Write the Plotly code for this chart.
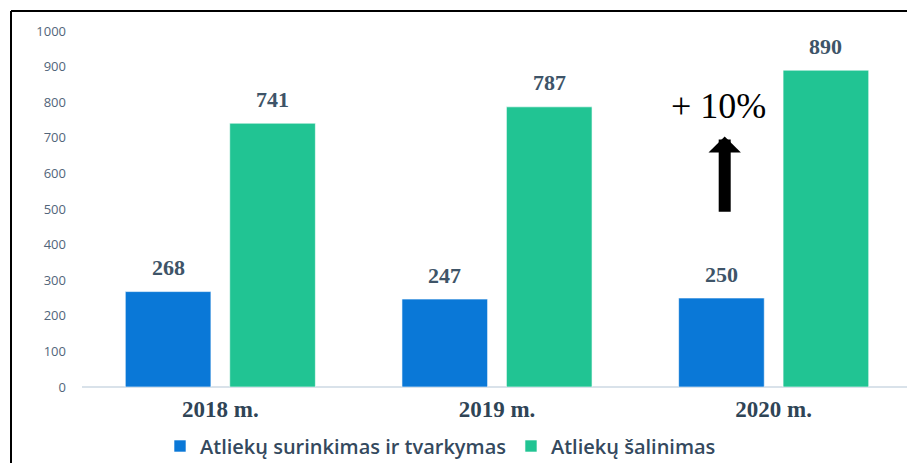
import plotly.graph_objects as go

categories = ["2018 m.", "2019 m.", "2020 m."]
series_names = ["Atliekų surinkimas ir tvarkymas", "Atliekų šalinimas"]
collection = [268, 247, 250]
disposal = [741, 787, 890]
colors = ["#0A78D7", "#21C493"]
y_ticks = [0, 100, 200, 300, 400, 500, 600, 700, 800, 900, 1000]
growth_label = "+ 10%"

# page body has an 8px default margin: figure occupies screen px 8..915 / 8..463
OFF = 8
W, H = 915 - OFF, 463 - OFF
L, R, T, B = 82 - OFF, 3, 31 - OFF, 76
pw, ph = W - L - R, H - T - B

def px_x(p):
    return (p - 82) / pw

def px_y(p):
    return (387 - p) / ph

fig = go.Figure()
series = [collection, disposal]
for name, vals, col in zip(series_names, series, colors):
    fig.add_trace(go.Bar(
        x=categories, y=vals, name=name,
        marker=dict(color=col, line=dict(color="rgba(255,255,255,0.6)", width=1)),
        cliponaxis=False,
    ))

bargap, bargroupgap = 0.245, 0.18
cat_px = pw / len(categories)
slot_px = cat_px * (1 - bargap) / 2
for si, vals in enumerate(series):
    shift = (si - 0.5) * slot_px
    for c, v in zip(categories, vals):
        fig.add_annotation(x=c, y=v, xref="x", yref="y", text=str(v), showarrow=False,
                           xshift=shift, yshift=24, yanchor="middle",
                           font=dict(family="Liberation Serif", size=22, color="#3E5468", weight="bold"))

fig.update_layout(
    width=W, height=H,
    margin=dict(l=L, r=R, t=T, b=B, autoexpand=False),
    plot_bgcolor="white", paper_bgcolor="white",
    barmode="group", bargap=bargap, bargroupgap=bargroupgap,
    showlegend=True,
    legend=dict(orientation="h", x=px_x(160), xanchor="left", y=px_y(446), yanchor="middle",
                font=dict(family="Open Sans", size=20, color="#34495E", weight=600),
                tracegroupgap=0),
    xaxis=dict(showgrid=False, showline=False, zeroline=False, ticks="",
               ticklabelstandoff=6,
               tickfont=dict(family="Liberation Serif", size=23, color="#2F4456", weight="bold")),
    yaxis=dict(range=[0, 1000], tickvals=y_ticks, showgrid=False, zeroline=True,
               zerolinecolor="#D9E2EA", zerolinewidth=1.5, showline=False, ticks="",
               tickfont=dict(family="Open Sans", size=13, color="#52657A"),
               ticklabelstandoff=15),
    shapes=[
        dict(type="line", xref="paper", yref="paper", x0=px_x(11), x1=px_x(11), y0=px_y(520), y1=px_y(11),
             line=dict(color="black", width=2)),
        dict(type="line", xref="paper", yref="paper", x0=px_x(11), x1=px_x(940), y0=px_y(11), y1=px_y(11),
             line=dict(color="black", width=2)),
    ],
)

# Growth annotation
fig.add_annotation(x=1.801, y=789, xref="x", yref="y", text=growth_label, showarrow=False,
                   font=dict(family="Liberation Serif", size=36, color="black"))
fig.add_annotation(x=1.823, y=704, xref="x", yref="y", ax=1.823, ay=488, axref="x", ayref="y",
                   text="", showarrow=True, arrowhead=1, arrowsize=0.45, arrowwidth=12,
                   arrowcolor="black", standoff=0)

fig.write_html("out.html")
